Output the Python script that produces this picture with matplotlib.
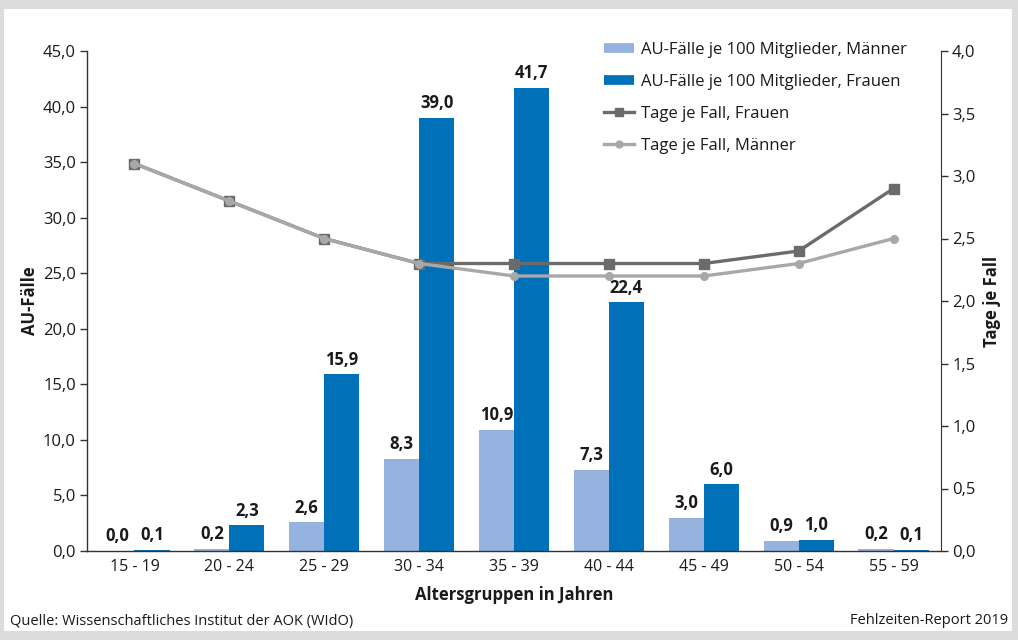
import matplotlib
matplotlib.use("Agg")
import matplotlib.pyplot as plt
import numpy as np
from matplotlib.lines import Line2D
from matplotlib.patches import Rectangle

plt.rcParams['font.family'] = ['Open Sans', 'DejaVu Sans']

altersgruppen = ["15 - 19", "20 - 24", "25 - 29", "30 - 34", "35 - 39",
                 "40 - 44", "45 - 49", "50 - 54", "55 - 59"]
au_maenner = [0.0, 0.2, 2.6, 8.3, 10.9, 7.3, 3.0, 0.9, 0.2]
au_frauen = [0.1, 2.3, 15.9, 39.0, 41.7, 22.4, 6.0, 1.0, 0.1]
tage_frauen = [3.1, 2.8, 2.5, 2.3, 2.3, 2.3, 2.3, 2.4, 2.9]
tage_maenner = [3.1, 2.8, 2.5, 2.3, 2.2, 2.2, 2.2, 2.3, 2.5]

c_m = "#95b3de"
c_f = "#0070b8"
c_lf = "#6b6b6b"
c_lm = "#a8a8a8"
c_txt = "#1a1a1a"

fig = plt.figure(figsize=(10.18, 6.4), dpi=100)
fig.patch.set_facecolor("#dcdcdc")
fig.add_artist(Rectangle((4 / 1018, 9 / 640), 1008 / 1018, 622 / 640,
                         transform=fig.transFigure, facecolor="white",
                         edgecolor="none", zorder=0))

ax = fig.add_axes([87 / 1018, 89 / 640, 854 / 1018, 500 / 640])
ax.set_facecolor("none")
x = np.arange(len(altersgruppen))
w = 0.37
bm = ax.bar(x - w / 2, au_maenner, w, color=c_m, zorder=2)
bf = ax.bar(x + w / 2, au_frauen, w, color=c_f, zorder=2)

for rects, vals in ((bm, au_maenner), (bf, au_frauen)):
    for r, v in zip(rects, vals):
        ax.text(r.get_x() + r.get_width() / 2, v + 0.5,
                f"{v:.1f}".replace(".", ","), ha="center", va="bottom",
                fontsize=12, fontweight="bold", color=c_txt)

ax.set_xlim(-0.5, len(altersgruppen) - 0.5)
ax.set_ylim(0, 45)
ax.set_yticks(np.arange(0, 45.1, 5))
ax.set_yticklabels([f"{v:.1f}".replace(".", ",") for v in np.arange(0, 45.1, 5)])
ax.set_xticks(x)
ax.set_xticklabels(altersgruppen)
ax.tick_params(axis="x", length=0, pad=6, labelsize=11.5, colors=c_txt)
ax.tick_params(axis="y", length=5, width=1, direction="out", labelsize=12,
               colors=c_txt, color="#333333", pad=3)
for s in ("top", "right"):
    ax.spines[s].set_visible(False)
for s in ("left", "bottom"):
    ax.spines[s].set_color("#333333")
    ax.spines[s].set_linewidth(1)
ax.set_ylabel("AU-Fälle", fontsize=12, fontweight="bold", color=c_txt, labelpad=3)
ax.set_xlabel("Altersgruppen in Jahren", fontsize=12, fontweight="bold",
              color=c_txt, labelpad=8)

ax2 = ax.twinx()
ax2.plot(x, tage_frauen, color=c_lf, lw=2.4, marker="s", markersize=7,
         zorder=3)
ax2.plot(x, tage_maenner, color=c_lm, lw=2.4, marker="o", markersize=5.5,
         zorder=4)
ax2.set_ylim(0, 4)
ax2.set_yticks(np.arange(0, 4.01, 0.5))
ax2.set_yticklabels([f"{v:.1f}".replace(".", ",") for v in np.arange(0, 4.01, 0.5)])
ax2.tick_params(axis="y", length=5, width=1, direction="out", labelsize=12,
                colors=c_txt, color="#333333", pad=3)
for s in ("top", "left", "bottom"):
    ax2.spines[s].set_visible(False)
ax2.spines["right"].set_color("#333333")
ax2.set_ylabel("Tage je Fall", fontsize=12, fontweight="bold", color=c_txt,
               labelpad=5)

handles = [
    Line2D([], [], color=c_m, lw=7, solid_capstyle="butt"),
    Line2D([], [], color=c_f, lw=7, solid_capstyle="butt"),
    Line2D([], [], color=c_lf, lw=2.4, marker="s", markersize=6),
    Line2D([], [], color=c_lm, lw=2.4, marker="o", markersize=5),
]
labels = ["AU-Fälle je 100 Mitglieder, Männer",
          "AU-Fälle je 100 Mitglieder, Frauen",
          "Tage je Fall, Frauen",
          "Tage je Fall, Männer"]
leg = ax2.legend(handles, labels, loc="upper right",
                 bbox_to_anchor=(0.978, 1.048), frameon=False, fontsize=12,
                 handlelength=1.8, handletextpad=0.45, labelspacing=0.95,
                 labelcolor=c_txt, alignment="left")

fig.text(10 / 1018, 1 - 621 / 640, "Quelle: Wissenschaftliches Institut der AOK (WIdO)",
         fontsize=10.5, color=c_txt, va="center", ha="left")
fig.text(1008 / 1018, 1 - 621 / 640, "Fehlzeiten-Report 2019",
         fontsize=10.5, color=c_txt, va="center", ha="right")

fig.savefig("out.png", dpi=100, facecolor=fig.get_facecolor())
